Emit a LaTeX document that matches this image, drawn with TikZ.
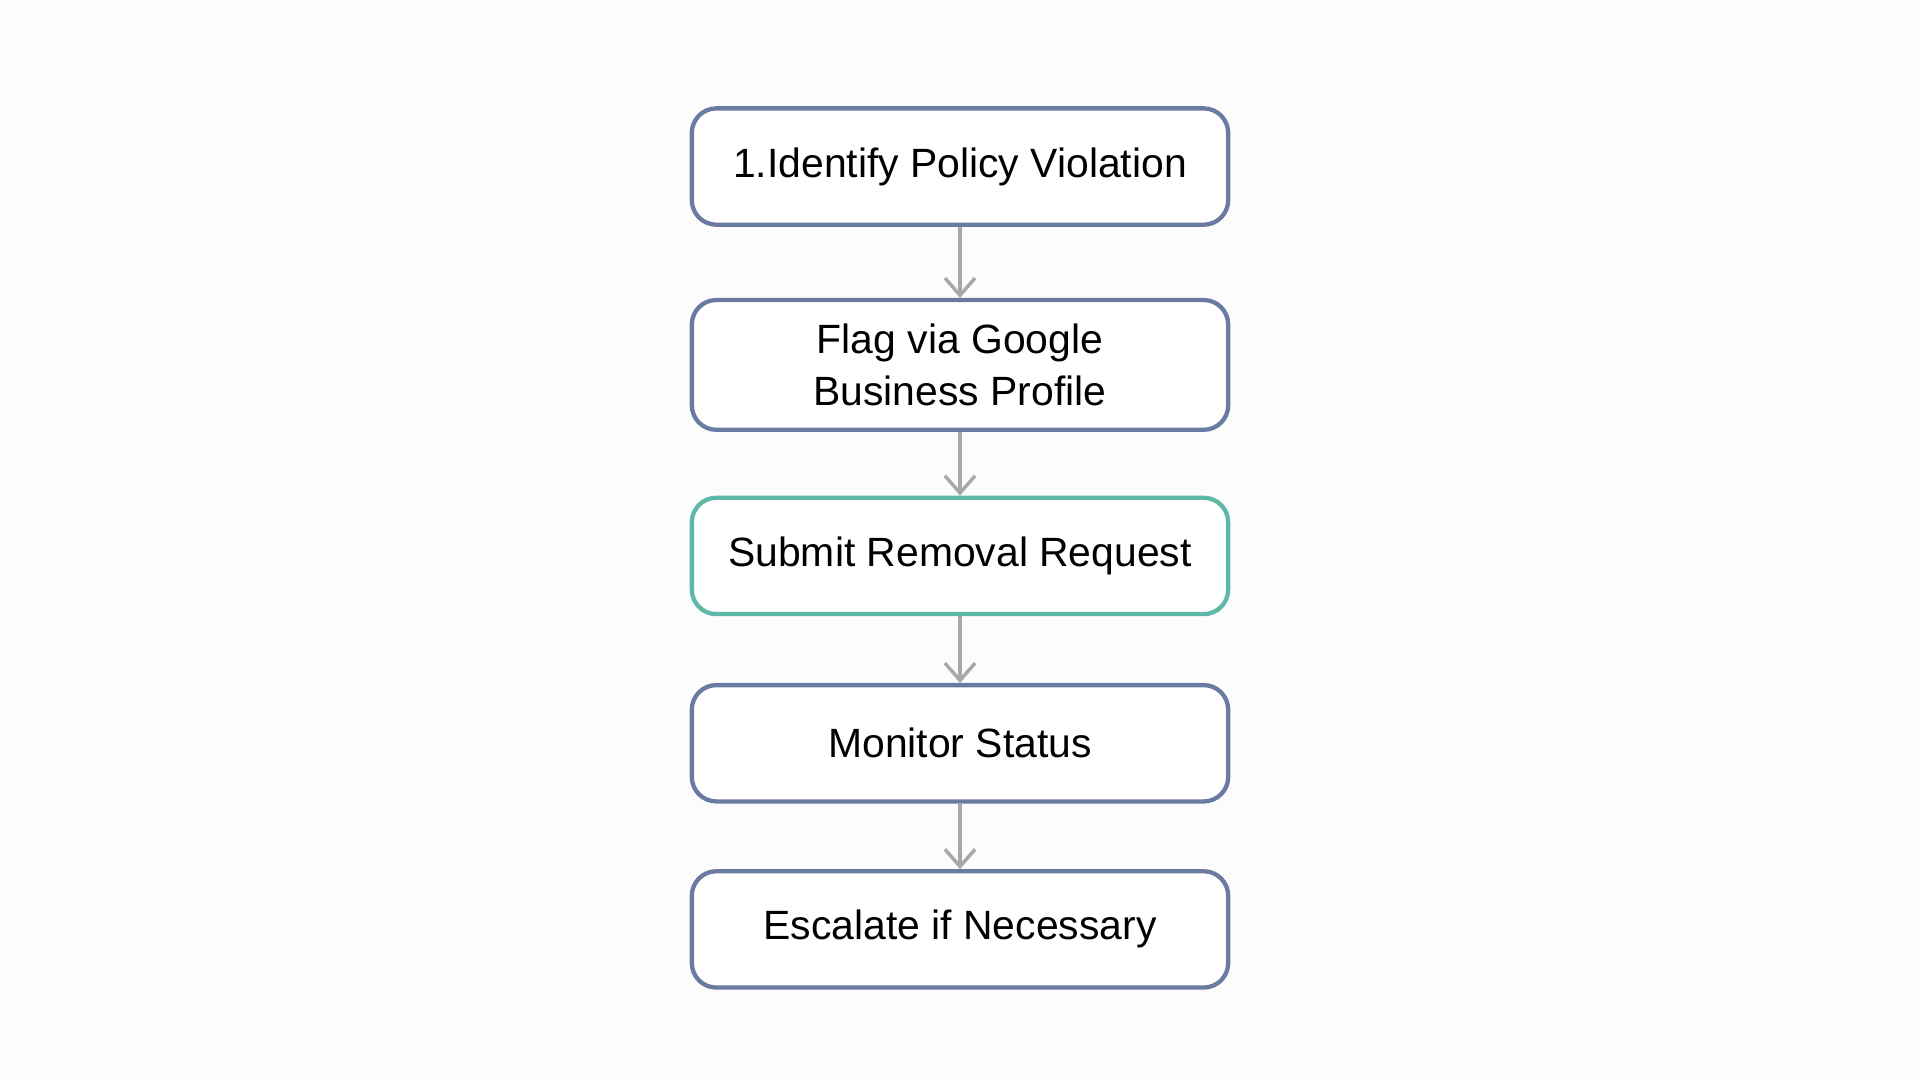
\documentclass[tikz,border=0pt]{standalone}
\usepackage{fontspec}
\setmainfont{Liberation Sans}
\usetikzlibrary{arrows.meta}
\definecolor{boxblue}{HTML}{6A7BA2}
\definecolor{boxteal}{HTML}{5DB8A8}
\definecolor{arrowgrey}{HTML}{A8A8A8}
\tikzset{
  stepbox/.style={draw=boxblue, line width=1pt, rounded corners=0.2cm, fill=white,
    minimum width=4.38cm, minimum height=0.95cm, align=center,
    font=\fontsize{9.5pt}{12pt}\selectfont},
  flow/.style={draw=arrowgrey, line width=0.8pt, ->, >={Straight Barb[length=4pt,width=7pt]}}
}
\begin{document}
\begin{tikzpicture}
\fill[white!98!gray] (0,0) rectangle (15.68,8.82);
\useasboundingbox (0,0) rectangle (15.68,8.82);

\node[stepbox] (identify) at (7.84, 7.46) {1.Identify Policy Violation};
\node[stepbox, minimum height=1.06cm] (flag) at (7.84, 5.84) {Flag via Google\\Business Profile};
\node[stepbox, draw=boxteal] (submit) at (7.84, 4.28) {Submit Removal Request};
\node[stepbox] (monitor) at (7.84, 2.75) {Monitor Status};
\node[stepbox] (escalate) at (7.84, 1.23) {Escalate if Necessary};

\draw[flow] (identify) -- (flag);
\draw[flow] (flag) -- (submit);
\draw[flow] (submit) -- (monitor);
\draw[flow] (monitor) -- (escalate);
\end{tikzpicture}
\end{document}
